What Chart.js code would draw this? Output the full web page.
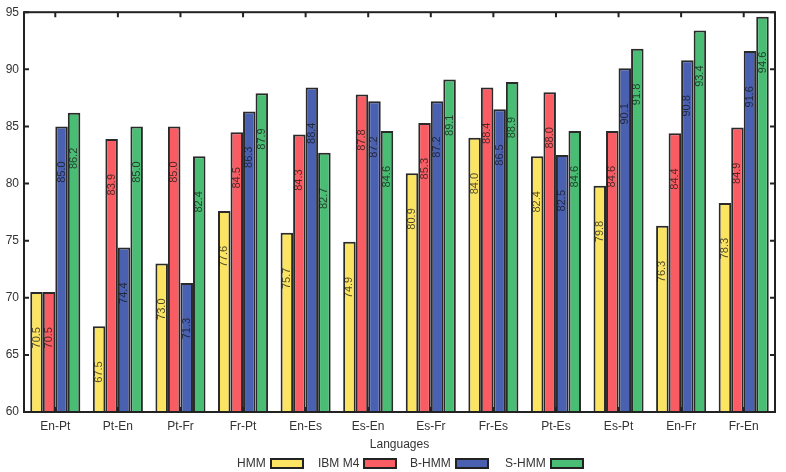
<!DOCTYPE html>
<html>
<head>
<meta charset="utf-8">
<script src="https://cdn.jsdelivr.net/npm/chart.js@4/dist/chart.umd.min.js"></script>
<style>
  html, body { margin: 0; padding: 0; background: #fff; }
  #wrap { position: relative; width: 786px; height: 472px; }
  #legend { position: absolute; left: 0; top: 454px; width: 786px; height: 18px;
    font-family: "Liberation Sans", Arial, sans-serif; font-size: 12px; color: #333; }
  .item { position: absolute; top: 2px; white-space: nowrap; }
  .box { display: inline-block; width: 30px; height: 7px; border: 2px solid #222; vertical-align: middle; margin-left: 4px; }
</style>
</head>
<body>
<div id="wrap">
  <canvas id="myChart" width="786" height="472"></canvas>
  <div id="legend"></div>
</div>
<script>
var languages = ['En-Pt', 'Pt-En', 'Pt-Fr', 'Fr-Pt', 'En-Es', 'Es-En', 'Es-Fr', 'Fr-Es', 'Pt-Es', 'Es-Pt', 'En-Fr', 'Fr-En'];
var hmm   = [70.5, 67.5, 73.0, 77.6, 75.7, 74.9, 80.9, 84.0, 82.4, 79.8, 76.3, 78.3];
var ibmM4 = [70.5, 83.9, 85.0, 84.5, 84.3, 87.8, 85.3, 88.4, 88.0, 84.6, 84.4, 84.9];
var bHmm  = [85.0, 74.4, 71.3, 86.3, 88.4, 87.2, 87.2, 86.5, 82.5, 90.1, 90.8, 91.6];
var sHmm  = [86.2, 85.0, 82.4, 87.9, 82.7, 84.6, 89.1, 88.9, 84.6, 91.8, 93.4, 94.6];
var yTicks = [60, 65, 70, 75, 80, 85, 90, 95];

var colors = ['#fbe462', '#f95c63', '#4a61b2', '#48bd73'];
var names = ['HMM', 'IBM M4', 'B-HMM', 'S-HMM'];
var series = [hmm, ibmM4, bHmm, sHmm];

var fontFam = '"Liberation Sans", Arial, sans-serif';

// value labels, rotated, inside the bars
var labelPlugin = {
  id: 'labels',
  afterDatasetsDraw: function (chart) {
    var ctx = chart.ctx;
    var yScale = chart.scales.y;
    ctx.save();
    ctx.font = '11px ' + fontFam;
    ctx.fillStyle = 'rgba(20,20,20,0.75)';
    ctx.textAlign = 'center';
    ctx.textBaseline = 'middle';
    chart.data.datasets.forEach(function (ds, i) {
      chart.getDatasetMeta(i).data.forEach(function (bar, j) {
        var v = ds.data[j];
        var y = yScale.getPixelForValue(v - 4);
        ctx.save();
        ctx.translate(bar.x, y);
        ctx.rotate(-Math.PI / 2);
        ctx.fillText(v.toFixed(1), 0, 0);
        ctx.restore();
      });
    });
    ctx.restore();
  }
};

// box frame with inward ticks
var framePlugin = {
  id: 'frame',
  afterDraw: function (chart) {
    var ctx = chart.ctx;
    var a = chart.chartArea;
    var x = chart.scales.x, y = chart.scales.y;
    ctx.save();
    ctx.strokeStyle = '#222';
    ctx.lineWidth = 2;
    ctx.strokeRect(a.left, a.top, a.right - a.left, a.bottom - a.top);
    ctx.beginPath();
    yTicks.forEach(function (t) {
      var py = y.getPixelForValue(t);
      ctx.moveTo(a.left, py); ctx.lineTo(a.left + 5, py);
      ctx.moveTo(a.right, py); ctx.lineTo(a.right - 5, py);
    });
    languages.forEach(function (l, i) {
      var px = x.getPixelForValue(i);
      ctx.moveTo(px, a.top); ctx.lineTo(px, a.top + 5);
      ctx.moveTo(px, a.bottom); ctx.lineTo(px, a.bottom - 5);
    });
    ctx.stroke();
    ctx.restore();
  }
};

var ctx = document.getElementById('myChart').getContext('2d');
var chart = new Chart(ctx, {
  type: 'bar',
  data: {
    labels: languages,
    datasets: series.map(function (d, i) {
      return {
        label: names[i],
        data: d,
        backgroundColor: colors[i],
        borderColor: '#2a2a2a',
        borderWidth: 2,
        borderSkipped: false,
        categoryPercentage: 0.8,
        barPercentage: 1.0
      };
    })
  },
  options: {
    responsive: false,
    animation: false,
    layout: { padding: { top: 6, right: 11, bottom: 20, left: 0 } },
    plugins: {
      legend: { display: false },
      tooltip: { enabled: false }
    },
    scales: {
      x: {
        grid: { display: false, drawTicks: false },
        border: { display: false },
        ticks: { color: '#333', font: { family: fontFam, size: 12 }, padding: 7, maxRotation: 0 },
        title: { display: true, text: 'Languages', color: '#333', font: { family: fontFam, size: 12 }, padding: { top: 3, bottom: 0 } },
        afterFit: function (s) { s.height = 40; }
      },
      y: {
        min: 60,
        max: 95,
        grid: { display: false, drawTicks: false },
        border: { display: false },
        ticks: { stepSize: 5, color: '#333', font: { family: fontFam, size: 12 }, padding: 5 },
        afterFit: function (s) { s.width = 24; }
      }
    }
  },
  plugins: [labelPlugin, framePlugin]
});

// legend: text then box
var legendPos = [237, 318, 410, 505];
var legend = document.getElementById('legend');
names.forEach(function (n, i) {
  var item = document.createElement('span');
  item.className = 'item';
  item.style.left = legendPos[i] + 'px';
  item.appendChild(document.createTextNode(n));
  var box = document.createElement('span');
  box.className = 'box';
  box.style.background = colors[i];
  item.appendChild(box);
  legend.appendChild(item);
});
</script>
</body>
</html>
